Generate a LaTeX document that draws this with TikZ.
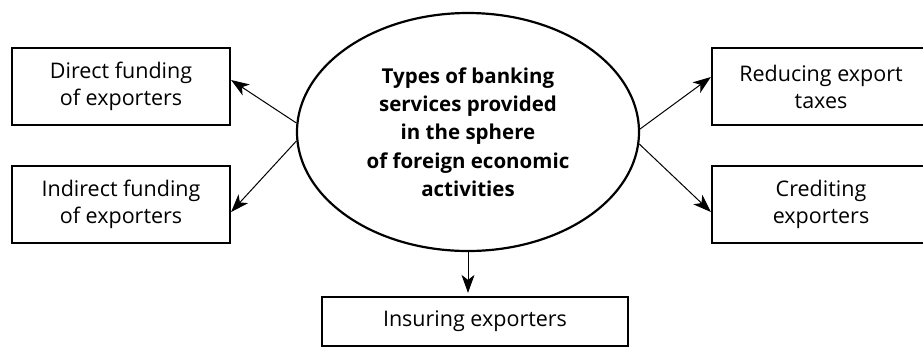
\documentclass[tikz,border=0pt]{standalone}
\usepackage{fontspec}
\setmainfont{Open Sans}
\usetikzlibrary{shapes.geometric,arrows.meta}
\begin{document}
\begin{tikzpicture}[x=1pt,y=-1pt,
  box/.style={draw,line width=2.2pt,minimum height=77pt,align=center,
    font=\fontsize{21.5}{27}\selectfont,inner sep=0pt},
  hub/.style={ellipse,draw,line width=2.2pt,minimum width=342pt,minimum height=238pt,
    align=center,inner sep=0pt,font=\fontsize{20.5}{28.3}\selectfont\bfseries},
  link/.style={line width=1pt,-{Stealth[length=18pt,width=13pt,inset=5pt]}}]
\useasboundingbox (0,0) rectangle (923,349);
\clip (0,0) rectangle (923,349);
% central ellipse
\node[hub] (c) at (468,132) {Types of banking\\services provided\\in the sphere\\of foreign economic\\activities};
% surrounding boxes
\node[box,minimum width=218pt] (lt) at (121,86.5) {Direct funding\\of exporters};
\node[box,minimum width=218pt] (lb) at (121,204.5) {Indirect funding\\of exporters};
\node[box,minimum width=218pt] (rt) at (821,86.5) {Reducing export\\taxes};
\node[box,minimum width=218pt] (rb) at (821,204.5) {Crediting\\exporters};
\node[box,minimum width=306pt,minimum height=49pt] (bt) at (475,321.5) {Insuring exporters};
% connectors
\draw[link] (c.177) -- ([yshift=6.5pt]lt.east);
\draw[link] (c.183) -- ([yshift=-7.5pt]lb.east);
\draw[link] (c.1) -- ([yshift=9.5pt]rt.west);
\draw[link] (c.-4) -- ([yshift=-7.5pt]rb.west);
\draw[link] (c.south) -- ([yshift=3pt]c.south |- bt.north);
\end{tikzpicture}
\end{document}
